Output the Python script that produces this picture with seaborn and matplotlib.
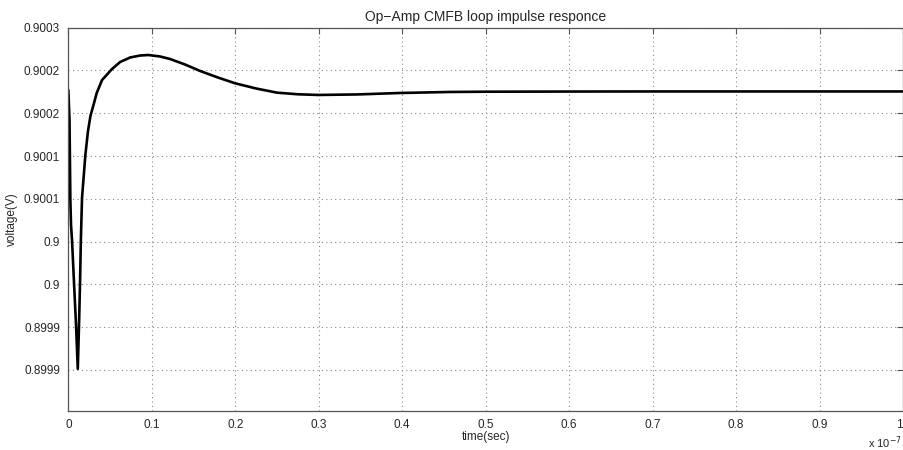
import matplotlib
matplotlib.use("Agg")
import matplotlib.pyplot as plt
import seaborn as sns
import pandas as pd

# time in units of 1e-7 s
time_e7 = [0.0, 0.0014, 0.0024, 0.0032, 0.0044, 0.0068, 0.0092, 0.0113,
           0.0128, 0.0140, 0.0150, 0.0164, 0.0204, 0.0235, 0.0265, 0.0305,
           0.034, 0.0404, 0.052, 0.062, 0.074, 0.0859, 0.0958, 0.1098,
           0.122, 0.1398, 0.158, 0.1792, 0.2, 0.2248, 0.25, 0.2751, 0.299,
           0.346, 0.397, 0.457, 0.5, 0.6, 0.7, 0.8, 0.9, 1.0]
voltage = [0.9001772, 0.9001422, 0.9000487, 0.9000195, 0.9000020, 0.8999518,
           0.8999027, 0.8998513, 0.8999027, 0.8999518, 0.9000020, 0.9000511,
           0.9001013, 0.9001290, 0.9001470, 0.9001610, 0.9001737, 0.9001889,
           0.9002014, 0.9002099, 0.9002152, 0.9002175, 0.9002181, 0.9002164,
           0.9002134, 0.9002070, 0.9001994, 0.9001918, 0.9001850, 0.9001790,
           0.9001741, 0.9001722, 0.9001714, 0.9001720, 0.9001737, 0.9001749,
           0.9001752, 0.9001754, 0.9001755, 0.9001755, 0.9001755, 0.9001755]

x_ticks = [0, 0.1, 0.2, 0.3, 0.4, 0.5, 0.6, 0.7, 0.8, 0.9, 1.0]
x_tick_labels = ["0", "0.1", "0.2", "0.3", "0.4", "0.5", "0.6", "0.7", "0.8", "0.9", "1"]
y_ticks = [0.89985, 0.8999, 0.89995, 0.9, 0.90005, 0.9001, 0.90015, 0.9002, 0.90025]
y_tick_labels = ["0.8999", "0.8999", "0.9", "0.9", "0.9001", "0.9001", "0.9002", "0.9002", "0.9003"]

sns.set_style("white")
plt.rcParams['font.family'] = ['Liberation Sans', 'DejaVu Sans']

df = pd.DataFrame({"t": time_e7, "v": voltage})

fig = plt.figure(figsize=(9.04, 4.5), dpi=100)
ax = fig.add_axes([0.0756, 0.0867, 0.9233, 0.8517])
sns.lineplot(data=df, x="t", y="v", ax=ax, color="black", linewidth=1.9,
             sort=False, solid_joinstyle="round")

ax.set_xlim(0, 1.0)
ax.set_ylim(0.899802, 0.90025)
ax.set_xticks(x_ticks)
ax.set_xticklabels(x_tick_labels)
ax.get_xticklabels()[-1].set_horizontalalignment("right")
ax.set_yticks(y_ticks)
ax.set_yticklabels(y_tick_labels)
ax.tick_params(direction="in", length=4, width=0.8, color="#555555",
               labelsize=8.5, top=True, right=True, pad=6)
ax.grid(True, linestyle=(0, (1, 3)), color="#888888", linewidth=0.8)
for s in ax.spines.values():
    s.set_color("#555555")
    s.set_linewidth(0.9)

ax.set_title("Op\u2212Amp CMFB loop impulse responce", fontsize=10, pad=5)
ax.set_xlabel("time(sec)", fontsize=8.5, labelpad=0)
ax.set_ylabel("voltage(V)", fontsize=8.5, labelpad=4)
ax.text(0.999, -0.06, "x 10$^{-7}$", transform=ax.transAxes, ha="right", va="top", fontsize=8)

fig.savefig("out.png", dpi=100)
